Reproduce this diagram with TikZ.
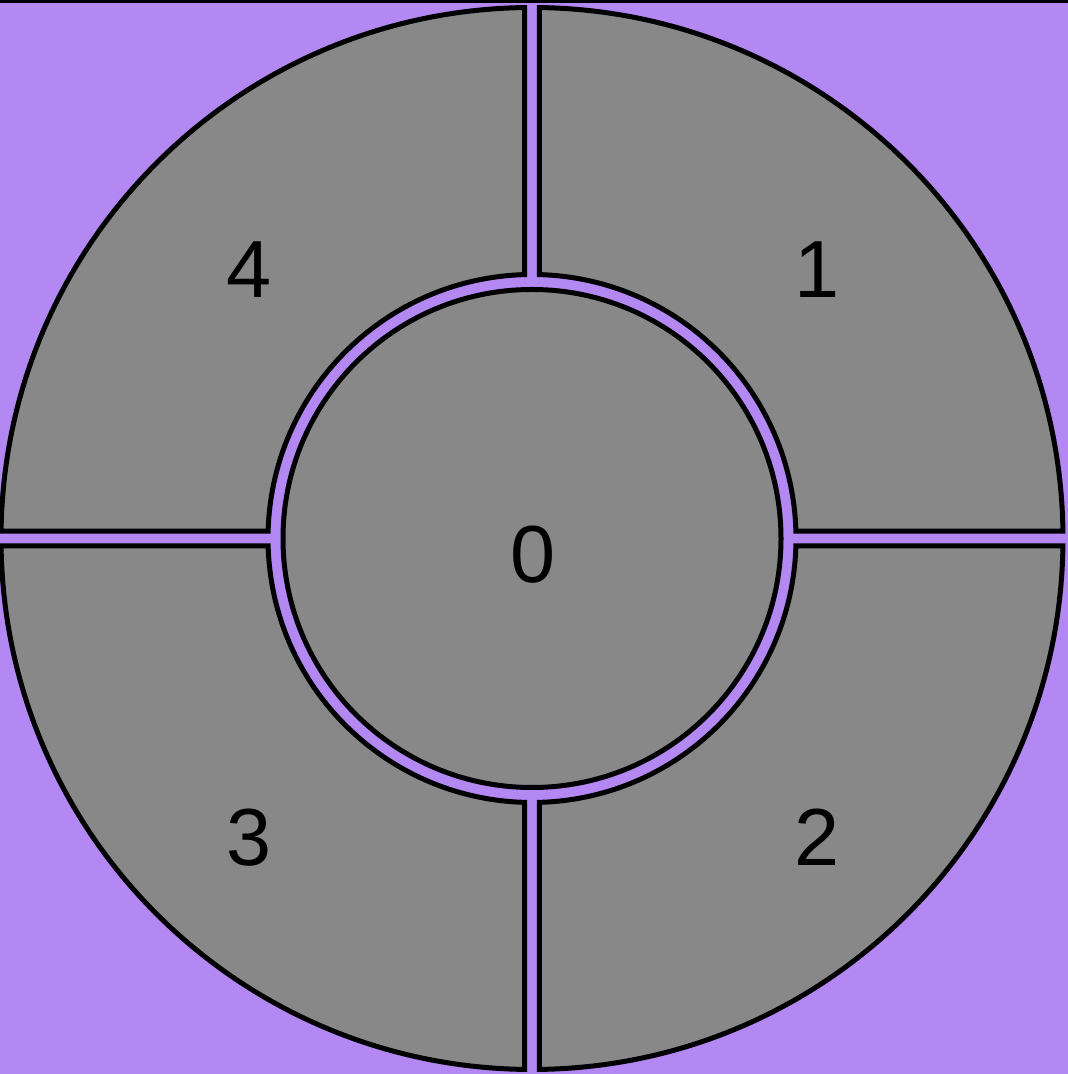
\documentclass[tikz,border=0pt]{standalone}
\usepackage{fontspec}
\setmainfont{Liberation Sans}
\usetikzlibrary{calc}
\definecolor{bgpurple}{HTML}{B388F2}
\definecolor{secgray}{HTML}{888888}
\tikzset{
  sector/.style={fill=secgray, draw=black, line width=5pt, line join=miter},
  numlabel/.style={anchor=base, inner sep=0pt, font=\fontsize{81}{81}\selectfont}
}
\begin{document}
\begin{tikzpicture}[x=1pt,y=1pt]
\useasboundingbox (0,0) rectangle (1068,1074);
\fill[bgpurple] (0,0) rectangle (1068,1074);
\fill[black] (0,1070.6) rectangle (1068,1074);
\coordinate (C) at (532,535.5);
\pgfmathsetmacro{\Ro}{531}
\pgfmathsetmacro{\Ri}{264}
\pgfmathsetmacro{\g}{7.5}
\pgfmathsetmacro{\ao}{asin(\g/\Ro)}
\pgfmathsetmacro{\ai}{asin(\g/\Ri)}
% four ring sectors
\foreach \q in {0,90,180,270}{
  \path[sector] ($(C)+({\q+90-\ao}:\Ro)$)
     arc[start angle={\q+90-\ao}, end angle={\q+\ao}, radius=\Ro]
     -- ($(C)+({\q+\ai}:\Ri)$)
     arc[start angle={\q+\ai}, end angle={\q+90-\ai}, radius=\Ri]
     -- cycle;
}
% centre disc
\path[sector] (C) circle[radius=249];
\node[numlabel] (n0) at (533,491) {0};
\node[numlabel] (n1) at (817,776) {1};
\node[numlabel] (n2) at (817,208) {2};
\node[numlabel] (n3) at (249,208) {3};
\node[numlabel] (n4) at (249,776) {4};
\end{tikzpicture}
\end{document}
